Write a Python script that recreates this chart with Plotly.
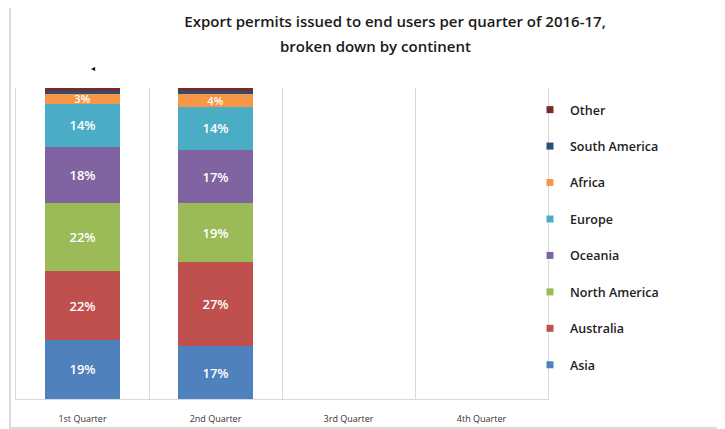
import plotly.graph_objects as go

quarters = ["1st Quarter", "2nd Quarter", "3rd Quarter", "4th Quarter"]
continents = ["Asia", "Australia", "North America", "Oceania", "Europe", "Africa", "South America", "Other"]

asia = [19, 17, None, None]
australia = [22, 27, None, None]
north_america = [22, 19, None, None]
oceania = [18, 17, None, None]
europe = [14, 14, None, None]
africa = [3, 4, None, None]
south_america = [1, 1, None, None]
other = [1, 1, None, None]

series = [asia, australia, north_america, oceania, europe, africa, south_america, other]
colors = ["#4F81BD", "#C0504D", "#9BBB59", "#8064A2", "#4BACC6", "#F79646", "#2C4D75", "#772C2A"]
labelled = [True, True, True, True, True, True, False, False]

W, H = 725, 429
OFF = 8  # page body margin offset
# plot area in page pixel coordinates
PL, PR, PT, PB = 16, 548, 88, 399
ML, MT = PL - OFF, PT - OFF
MR, MB = W - (PR - OFF), H - (PB - OFF)
PW, PH = PR - PL, PB - PT


def px(x):
    return (x - PL) / PW


def py(y):
    return (PB - y) / PH


fig = go.Figure()
for name, vals, col, lab in zip(continents, series, colors, labelled):
    fig.add_trace(go.Bar(
        x=quarters, y=vals, name=name, marker=dict(color=col, line=dict(width=0)),
        text=[f"{v}%" if (v is not None and lab) else "" for v in vals],
        textposition="inside", insidetextanchor="middle", constraintext="none",
        textfont=dict(color="white", size=11 if name == "Africa" else 13,
                      family="Open Sans", weight=600),
        showlegend=False, hoverinfo="name+y",
    ))

# legend entries, top to bottom: Other ... Asia
for name, col in reversed(list(zip(continents, colors))):
    fig.add_trace(go.Scatter(
        x=[None], y=[None], mode="markers", name=name, legendgroup=name,
        marker=dict(symbol="square", size=7, color=col), showlegend=True,
    ))

fig.update_layout(
    template="none",
    width=W, height=H, barmode="stack", bargap=0.436,
    margin=dict(l=ML, r=MR, t=MT, b=MB, autoexpand=False),
    paper_bgcolor="white", plot_bgcolor="white",
    font=dict(family="Open Sans", color="#333333"),
    title=dict(text="Export permits issued to end users per quarter of 2016-17,",
               x=(395 - OFF) / W, xref="container", xanchor="center",
               y=1 - (22 - OFF) / H, yref="container", yanchor="middle",
               font=dict(size=15, color="#1a1a1a", weight=600)),
    showlegend=True,
    legend=dict(x=px(530), xanchor="left", y=py(95), yanchor="top",
                traceorder="grouped", tracegroupgap=17.2,
                font=dict(size=12.5, color="#222222", weight=600), bgcolor="rgba(0,0,0,0)",
                borderwidth=0, itemclick=False),
    xaxis=dict(categoryorder="array", categoryarray=quarters, range=[-0.5, 3.5],
               tickson="boundaries", showgrid=True, gridcolor="#d9d9d9", gridwidth=1,
               showline=True, linecolor="#d9d9d9", linewidth=1, automargin=False,
               ticks="", ticklabelstandoff=11,
               tickfont=dict(size=9, color="#333333"), zeroline=False, fixedrange=True),
    yaxis=dict(range=[0, 100], showticklabels=False, showgrid=False, zeroline=False,
               showline=True, mirror=True, linecolor="#d9d9d9", linewidth=1, ticks="",
               automargin=False, fixedrange=True),
    annotations=[
        dict(text="broken down by continent", x=px(375), y=py(46), xref="paper", yref="paper",
             xanchor="center", yanchor="middle", showarrow=False,
             font=dict(size=15, color="#1a1a1a", weight=600)),
        dict(text="◂", x=px(93), y=py(68), xref="paper", yref="paper",
             xanchor="center", yanchor="middle", showarrow=False,
             font=dict(size=8, color="#000000")),
    ],
    shapes=[
        dict(type="rect", xref="paper", yref="paper", x0=px(10), x1=px(740), y0=py(428), y1=py(5),
             line=dict(color="#d0d0d0", width=1.5), layer="below"),
    ],
)

fig.write_html("out.html")
